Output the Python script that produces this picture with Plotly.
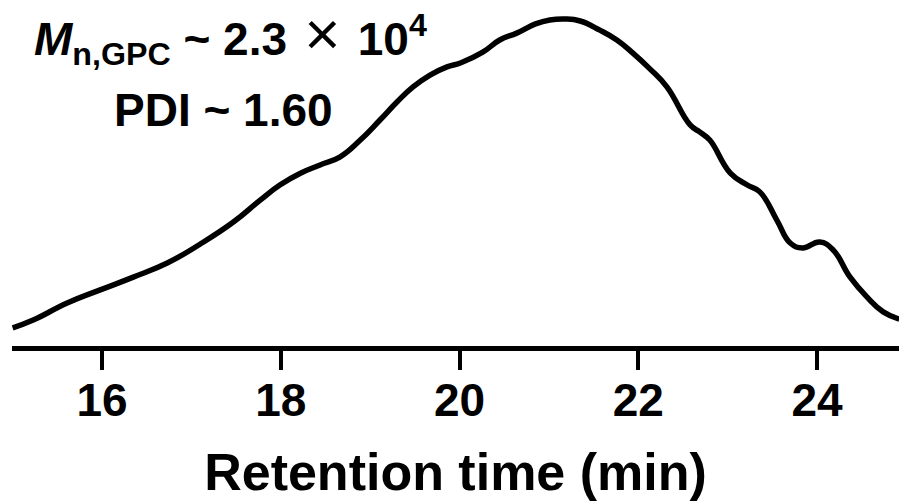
import plotly.graph_objects as go

# Retention time (min) and normalized detector response
retention_time = [15.0, 15.23, 15.61, 15.98, 16.35, 16.73, 17.1, 17.47, 17.77, 17.99,
                  18.22, 18.44, 18.66, 18.89, 19.11, 19.30, 19.48, 19.67, 19.86, 20.01,
                  20.26, 20.45, 20.64, 20.85, 21.01, 21.18, 21.35, 21.57, 21.76, 21.94,
                  22.13, 22.32, 22.58, 22.69, 22.8, 23.03, 23.22, 23.36, 23.55, 23.7,
                  23.84, 24.03, 24.18, 24.37, 24.56, 24.74, 24.92]
intensity = [0.055, 0.079, 0.131, 0.171, 0.210, 0.253, 0.311, 0.378, 0.445, 0.491,
             0.527, 0.552, 0.576, 0.628, 0.689, 0.744, 0.790, 0.826, 0.851, 0.863,
             0.896, 0.933, 0.954, 0.982, 0.994, 0.997, 0.991, 0.963, 0.933, 0.893,
             0.845, 0.790, 0.674, 0.652, 0.628, 0.527, 0.491, 0.470, 0.384, 0.314,
             0.299, 0.317, 0.293, 0.210, 0.149, 0.104, 0.082]
tick_values = [16, 18, 20, 22, 24]
tick_labels = ["16", "18", "20", "22", "24"]

FONT = "Liberation Sans, Arial, sans-serif"

fig = go.Figure()
fig.add_trace(go.Scatter(
    x=retention_time, y=intensity, mode="lines",
    line=dict(color="black", width=5.5, shape="spline", smoothing=1.3),
    cliponaxis=False, showlegend=False, hoverinfo="skip"))

fig.update_layout(
    width=899, height=502,
    margin=dict(l=12, r=0, t=0, b=156),
    paper_bgcolor="white", plot_bgcolor="white",
    font=dict(family=FONT, color="black"),
    xaxis=dict(
        range=[14.993, 24.917], showgrid=False, zeroline=False,
        showline=True, linewidth=5, linecolor="black",
        ticks="outside", ticklen=19, tickwidth=4, tickcolor="black",
        tickvals=tick_values, ticktext=tick_labels, ticklabelstandoff=-9,
        tickfont=dict(family=FONT, size=46, color="black", weight="bold"),
        title=dict(text="Retention time (min)", standoff=30,
                   font=dict(family=FONT, size=52, color="black", weight="bold")),
    ),
    yaxis=dict(range=[0, 1.055], visible=False, showgrid=False, zeroline=False),
)

fig.add_annotation(
    xref="paper", yref="paper", x=(230 - 12) / 887, y=(346 - 36) / 346,
    xanchor="center", yanchor="middle", showarrow=False,
    text=("<i>M</i><sub>n,GPC</sub> ~ 2.3"
          "<span style='font-weight:normal;font-size:62px'> × </span>"
          "10<sup>4</sup>"),
    font=dict(family=FONT, size=46, color="black", weight="bold"))
fig.add_annotation(
    xref="paper", yref="paper", x=(223 - 12) / 887, y=(346 - 110) / 346,
    xanchor="center", yanchor="middle", showarrow=False,
    text="PDI ~ 1.60",
    font=dict(family=FONT, size=46, color="black", weight="bold"))

fig.write_html("out.html")
